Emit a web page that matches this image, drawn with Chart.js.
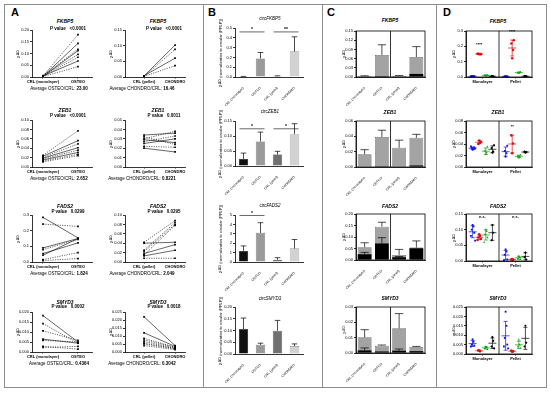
<!DOCTYPE html>
<html>
<head>
<meta charset="utf-8">
<script src="https://cdn.jsdelivr.net/npm/chart.js@4.4.1/dist/chart.umd.min.js"></script>
<style>
  body { margin: 0; background: #fff; }
  #fig { position: relative; width: 550px; height: 394px; overflow: hidden; font-family: Arial, "Liberation Sans", sans-serif; color: #000; }
  #fig canvas { position: absolute; }
  .frame { position: absolute; border: 1px solid #8c8c8c; }
  .vline { position: absolute; width: 1px; background: #8c8c8c; }
  .txt { position: absolute; white-space: nowrap; line-height: 1; transform: translate(-50%, -50%); font-size: 4.5px; }
  .letter { position: absolute; font-weight: bold; font-size: 11px; line-height: 1; }
  .ttl { font-weight: bold; font-style: italic; font-size: 5px; }
  .yt { transform: translate(-50%, -50%) rotate(-90deg); font-size: 4px; }
  .sup { font-size: 3px; position: relative; top: -1.5px; }
</style>
</head>
<body>
<div id="fig"></div>
<script>
// ---- labels
const monoLabels = ['CRL (monolayer)', 'OSTEO'];
const pelletLabels = ['CRL (pellet)', 'CHONDRO'];
const barLabels = ['CRL (monolayer)', 'OSTEO', 'CRL (pellet)', 'CHONDRO'];
const groupLabels = ['Monolayer', 'Pellet'];
const genes = ['FKBP5', 'ZEB1', 'FADS2', 'SMYD3'];

// ---- panel A: paired values (CRL -> treated), 1 = dotted line
const fkbp5MonoCrl = [0.004, 0.003, 0.005, 0.002, 0.006, 0.003, 0.004, 0.002];
const fkbp5Osteo = [0.180, 0.143, 0.118, 0.112, 0.096, 0.084, 0.068, 0.044];
const fkbp5MonoDash = [1, 0, 1, 0, 1, 1, 0, 1];
const fkbp5PelletCrl = [0.003, 0.002, 0.004, 0.002];
const fkbp5Chondro = [0.102, 0.088, 0.060, 0.036];
const fkbp5PelletDash = [0, 1, 0, 1];

const zeb1MonoCrl = [0.025, 0.023, 0.021, 0.019, 0.017, 0.015, 0.013, 0.011];
const zeb1Osteo = [0.077, 0.056, 0.049, 0.041, 0.036, 0.031, 0.027, 0.024];
const zeb1MonoDash = [1, 0, 1, 0, 1, 0, 1, 1];
const zeb1PelletCrl = [0.034, 0.032, 0.030, 0.029, 0.027, 0.025, 0.022, 0.020];
const zeb1Chondro = [0.036, 0.024, 0.038, 0.026, 0.033, 0.030, 0.021, 0.016];
const zeb1PelletDash = [0, 1, 1, 0, 1, 0, 1, 0];

const fads2MonoCrl = [0.285, 0.242, 0.090, 0.079, 0.054, 0.043, 0.015, 0.009];
const fads2Osteo = [0.154, 0.227, 0.150, 0.144, 0.122, 0.150, 0.060, 0.022];
const fads2MonoDash = [0, 1, 0, 1, 0, 0, 1, 1];
const fads2PelletCrl = [0.042, 0.040, 0.025, 0.022, 0.018, 0.015, 0.013, 0.008];
const fads2Chondro = [0.088, 0.042, 0.084, 0.080, 0.037, 0.078, 0.025, 0.008];
const fads2PelletDash = [1, 0, 1, 1, 0, 1, 0, 1];

const smyd3MonoCrl = [0.0182, 0.0142, 0.0106, 0.0064, 0.0058, 0.0028, 0.0023];
const smyd3Osteo = [0.0050, 0.0044, 0.0058, 0.0044, 0.0050, 0.0014, 0.0028];
const smyd3MonoDash = [0, 1, 1, 0, 1, 1, 1];
const smyd3PelletCrl = [0.022, 0.012, 0.0085, 0.0075, 0.0065, 0.0055, 0.005, 0.004];
const smyd3Chondro = [0.004, 0.0035, 0.003, 0.003, 0.0025, 0.0022, 0.002, 0.0015];
const smyd3PelletDash = [0, 0, 1, 1, 1, 1, 1, 1];

const pValuesMono = ['<0.0001', '<0.0001', '0.0299', '0.0002'];
const pValuesPellet = ['<0.0001', '0.0011', '0.0295', '0.0018'];
const ratiosMono = ['23.00', '2.652', '1.824', '0.4364'];
const ratiosPellet = ['16.46', '0.8221', '2.049', '0.3042'];

// ---- panel B: circular RNA bars (mean, upper error)
const circFkbp5 = [0.004, 0.19, 0.008, 0.26];
const circFkbp5Err = [0.006, 0.25, 0.012, 0.41];
const circZeb1 = [0.024, 0.082, 0.038, 0.106];
const circZeb1Err = [0.043, 0.113, 0.049, 0.141];
const circFads2 = [1.18, 3.10, 0.25, 1.43];
const circFads2Err = [1.71, 4.18, 0.46, 2.39];
const circSmyd3 = [0.106, 0.039, 0.099, 0.034];
const circSmyd3Err = [0.153, 0.046, 0.143, 0.043];

// ---- panel C: total (grey) and circular part (black)
const cFkbp5Total = [0.003, 0.072, 0.004, 0.065];
const cFkbp5TotalErr = [0.004, 0.105, 0.005, 0.099];
const cFkbp5Black = [0.001, 0.003, 0.002, 0.010];
const cFkbp5BlackErr = [null, null, null, null];
const cZeb1Total = [0.0165, 0.039, 0.025, 0.038];
const cZeb1TotalErr = [0.0226, 0.048, 0.035, 0.0426];
const cZeb1Black = [0.0003, 0.001, 0.0003, 0.002];
const cZeb1BlackErr = [null, null, null, null];
const cFads2Total = [0.055, 0.145, 0.022, 0.054];
const cFads2TotalErr = [0.075, 0.164, 0.046, 0.083];
const cFads2Black = [0.025, 0.072, 0.012, 0.051];
const cFads2BlackErr = [0.033, 0.097, 0.015, null];
const cSmyd3Total = [0.0102, 0.0048, 0.0161, 0.0039];
const cSmyd3TotalErr = [0.0152, 0.0052, 0.0257, 0.0043];
const cSmyd3Black = [0.0017, 0.001, 0.0015, 0.0012];
const cSmyd3BlackErr = [0.0033, null, 0.0026, null];

// ---- panel D: individual values [blue, red, green, black]
const dFkbp5Mono = [[0.004, 0.005, 0.006, 0.005, 0.004], [0.148, 0.150, 0.152, 0.149, 0.151], [0.008, 0.010, 0.013, 0.011], [0.004, 0.005, 0.006]];
const dFkbp5Pellet = [[0.003, 0.004, 0.005, 0.004], [0.122, 0.176, 0.218, 0.240], [0.025, 0.030, 0.028, 0.033], [0.004, 0.005, 0.006]];
const dZeb1Mono = [[0.030, 0.031, 0.033, 0.034, 0.036, 0.032], [0.046, 0.042, 0.040, 0.044], [0.022, 0.025, 0.028, 0.035], [0.025, 0.027, 0.033, 0.038]];
const dZeb1Pellet = [[0.018, 0.024, 0.028, 0.037], [0.024, 0.041, 0.055], [0.016, 0.018, 0.019, 0.021], [0.025, 0.026, 0.027]];
const dFads2Mono = [[0.115, 0.110, 0.100, 0.090, 0.080, 0.065], [0.085, 0.080, 0.075, 0.070, 0.067], [0.100, 0.095, 0.085, 0.075, 0.060], [0.115, 0.090, 0.066]];
const dFads2Pellet = [[0.037, 0.030, 0.020, 0.005, 0.003], [0.006, 0.004, 0.005], [0.016, 0.012, 0.008, 0.005], [0.027, 0.005, 0.012]];
const dSmyd3Mono = [[0.0078, 0.0065, 0.005, 0.0045, 0.004], [0.0018, 0.0015, 0.002], [0.004, 0.0035, 0.003, 0.0025], [0.009, 0.007, 0.004, 0.003]];
const dSmyd3Pellet = [[0.0225, 0.015, 0.0085, 0.005, 0.004, 0.003], [0.0012, 0.0015, 0.0018], [0.0075, 0.005, 0.004, 0.003], [0.015, 0.006, 0.004]];

Chart.defaults.font.family = 'Arial, "Liberation Sans", sans-serif';
Chart.defaults.font.size = 4;
Chart.defaults.color = '#000';
Chart.defaults.animation = false;
Chart.defaults.responsive = false;
Chart.defaults.plugins.legend.display = false;
Chart.defaults.plugins.tooltip.enabled = false;

const fig = document.getElementById('fig');

function addCanvas(left, top, w, h) {
    const c = document.createElement('canvas');
    c.width = w;
    c.height = h;
    c.style.left = left + 'px';
    c.style.top = top + 'px';
    c.style.width = w + 'px';
    c.style.height = h + 'px';
    fig.appendChild(c);
    return c;
}

function note(html, x, y, cls) {
    const d = document.createElement('div');
    d.className = 'txt ' + (cls || '');
    d.style.left = x + 'px';
    d.style.top = y + 'px';
    d.innerHTML = html;
    fig.appendChild(d);
}

// the plot rectangle (page coordinates) is fixed, margins hold the axes
function makeChart(rect, m, config) {
    const cv = addCanvas(rect.l - m.left, rect.t - m.top, rect.r - rect.l + m.left + m.right, rect.b - rect.t + m.top + m.bottom);
    config.options.layout = { padding: { top: m.top, right: m.right, left: 0, bottom: 0 } };
    config.options.scales.y.afterFit = (s) => { s.width = m.left; };
    config.options.scales.x.afterFit = (s) => { s.height = m.bottom; };
    return new Chart(cv, config);
}

function yAxis(max, step, dec) {
    return {
        min: 0,
        max,
        border: { color: '#000', width: 0.8 },
        grid: { drawOnChartArea: false, color: '#000', tickLength: 2, lineWidth: 0.8 },
        ticks: { stepSize: step, padding: 1, callback: (v) => v.toFixed(dec) },
    };
}

function catAxis() {
    return {
        type: 'category',
        offset: true,
        border: { color: '#000', width: 0.8 },
        grid: { display: false },
        ticks: { minRotation: 45, maxRotation: 45, autoSkip: false, padding: 1, font: { size: 3.4 } },
    };
}

function errorPlugin(sets) {
    return {
        id: 'errorBars',
        afterDatasetsDraw(chart) {
            const { ctx } = chart;
            const ys = chart.scales.y;
            ctx.save();
            ctx.strokeStyle = '#000';
            ctx.lineWidth = 0.7;
            sets.forEach((set) => {
                chart.getDatasetMeta(set.ds).data.forEach((bar, i) => {
                    if (set.hi[i] == null) return;
                    const top = ys.getPixelForValue(set.hi[i]);
                    const cap = bar.width * 0.3;
                    ctx.beginPath();
                    ctx.moveTo(bar.x, bar.y);
                    ctx.lineTo(bar.x, top);
                    ctx.moveTo(bar.x - cap, top);
                    ctx.lineTo(bar.x + cap, top);
                    ctx.stroke();
                });
            });
            ctx.restore();
        },
    };
}

function sigPlugin(marks) {
    return {
        id: 'sig',
        afterDatasetsDraw(chart) {
            const { ctx } = chart;
            const xs = chart.scales.x;
            const ys = chart.scales.y;
            ctx.save();
            ctx.strokeStyle = '#000';
            ctx.fillStyle = '#000';
            ctx.lineWidth = 0.6;
            ctx.font = 'bold 5px Arial, "Liberation Sans", sans-serif';
            ctx.textAlign = 'center';
            marks.forEach((m) => {
                const x1 = xs.getPixelForValue(m.from) - 4;
                const x2 = xs.getPixelForValue(m.to) + 4;
                const y = ys.getPixelForValue(m.y);
                ctx.beginPath();
                ctx.moveTo(x1, y);
                ctx.lineTo(x2, y);
                ctx.stroke();
                ctx.fillText(m.text, (x1 + x2) / 2, y - 0.5);
            });
            ctx.restore();
        },
    };
}

function framePlugin(divideAt) {
    return {
        id: 'frame',
        afterDraw(chart) {
            const { ctx, chartArea: a } = chart;
            const x = chart.scales.x.getPixelForValue(divideAt);
            ctx.save();
            ctx.strokeStyle = '#000';
            ctx.lineWidth = 0.8;
            ctx.strokeRect(a.left, a.top, a.right - a.left, a.bottom - a.top);
            ctx.beginPath();
            ctx.moveTo(x, a.top);
            ctx.lineTo(x, a.bottom);
            ctx.stroke();
            ctx.restore();
        },
    };
}

function meanSdPlugin(marks) {
    return {
        id: 'meanSd',
        afterDatasetsDraw(chart) {
            const { ctx } = chart;
            const xs = chart.scales.x;
            const ys = chart.scales.y;
            ctx.save();
            ctx.lineWidth = 0.7;
            chart.data.datasets.forEach((ds) => {
                const vals = ds.data.map((p) => p.y);
                const mean = vals.reduce((a, b) => a + b, 0) / vals.length;
                const sd = Math.sqrt(vals.reduce((a, b) => a + (b - mean) ** 2, 0) / Math.max(vals.length - 1, 1));
                const x = xs.getPixelForValue(ds.cx);
                const ym = ys.getPixelForValue(mean);
                const y1 = ys.getPixelForValue(mean + sd);
                const y0 = ys.getPixelForValue(Math.max(mean - sd, 0));
                ctx.strokeStyle = ds.borderColor;
                ctx.beginPath();
                ctx.moveTo(x - 4, ym); ctx.lineTo(x + 4, ym);
                ctx.moveTo(x, y0); ctx.lineTo(x, y1);
                ctx.moveTo(x - 2, y0); ctx.lineTo(x + 2, y0);
                ctx.moveTo(x - 2, y1); ctx.lineTo(x + 2, y1);
                ctx.stroke();
            });
            ctx.fillStyle = '#000';
            ctx.font = 'bold 4px Arial, "Liberation Sans", sans-serif';
            ctx.textAlign = 'center';
            marks.forEach((m) => ctx.fillText(m.text, xs.getPixelForValue(m.x), ys.getPixelForValue(m.y)));
            ctx.restore();
        },
    };
}

function pairChart(rect, xr, yr, labels, crl, trt, dashed) {
    const datasets = crl.map((c, i) => ({
        data: [{ x: 0, y: c }, { x: 1, y: trt[i] }],
        borderColor: '#000',
        backgroundColor: '#000',
        borderWidth: 0.6,
        borderDash: dashed[i] ? [1.2, 1.2] : [],
        pointRadius: 1.2,
        pointStyle: 'rect',
        pointBorderWidth: 0,
    }));
    return makeChart(rect, { left: 24, top: 5, right: 6, bottom: 7 }, {
        type: 'line',
        data: { datasets },
        options: {
            scales: {
                x: {
                    type: 'linear',
                    min: xr[0],
                    max: xr[1],
                    border: { color: '#000', width: 0.8 },
                    grid: { drawOnChartArea: false, color: '#000', tickLength: 1.5, lineWidth: 0.8 },
                    afterBuildTicks: (s) => { s.ticks = [{ value: 0 }, { value: 1 }]; },
                    ticks: { callback: (v, i) => labels[i], maxRotation: 0, autoSkip: false, padding: 1, font: { weight: 'bold' } },
                },
                y: yAxis(...yr),
            },
        },
    });
}

function barChart(rect, yr, values, hi, sig) {
    return makeChart(rect, { left: 30, top: 6, right: 5, bottom: 32 }, {
        type: 'bar',
        data: {
            labels: barLabels,
            datasets: [{
                data: values,
                backgroundColor: ['#111111', '#9a9a9a', '#707070', '#d2d2d2'],
                borderColor: '#222',
                borderWidth: 0.4,
                barPercentage: 0.55,
                categoryPercentage: 1,
            }],
        },
        options: { scales: { x: catAxis(), y: yAxis(...yr) } },
        plugins: [errorPlugin([{ ds: 0, hi }]), sigPlugin(sig)],
    });
}

function stackChart(rect, yr, total, totalHi, black, blackHi) {
    const x = catAxis();
    x.stacked = true;
    return makeChart(rect, { left: 30, top: 5, right: 5, bottom: 32 }, {
        type: 'bar',
        data: {
            labels: barLabels,
            datasets: [
                { data: black, backgroundColor: '#000', borderWidth: 0, barPercentage: 0.8, categoryPercentage: 1 },
                { data: total, backgroundColor: '#a3a3a3', borderColor: '#333', borderWidth: 0.5, barPercentage: 0.8, categoryPercentage: 1 },
            ],
        },
        options: { scales: { x, y: yAxis(...yr) } },
        plugins: [errorPlugin([{ ds: 1, hi: totalHi }, { ds: 0, hi: blackHi }]), framePlugin(1.5)],
    });
}

const dotColors = ['#1010e8', '#e01010', '#10a010', '#000000'];
const dotShapes = ['rect', 'circle', 'triangle', 'rectRot'];
const spread = (i) => (i % 2 ? 1 : -1) * Math.ceil(i / 2) * 0.025;

function dotChart(rect, yr, mono, pellet, marks) {
    const datasets = [];
    [mono, pellet].forEach((group, g) => group.forEach((vals, k) => {
        const cx = g + 0.2 + k * 0.2;
        datasets.push({
            cx,
            data: vals.map((v, i) => ({ x: cx + spread(i), y: v })),
            backgroundColor: dotColors[k],
            borderColor: dotColors[k],
            pointStyle: dotShapes[k],
            pointRadius: 1.3,
            borderWidth: 0,
        });
    }));
    return makeChart(rect, { left: 20, top: 5, right: 5, bottom: 8 }, {
        type: 'scatter',
        data: { datasets },
        options: {
            scales: {
                x: {
                    type: 'linear',
                    min: 0,
                    max: 2,
                    border: { color: '#000', width: 0.8 },
                    grid: { drawOnChartArea: false, color: '#000', tickLength: 1.5, lineWidth: 0.8 },
                    afterBuildTicks: (s) => { s.ticks = [{ value: 0.5 }, { value: 1.5 }]; },
                    ticks: { callback: (v, i) => groupLabels[i], maxRotation: 0, autoSkip: false, padding: 1, font: { weight: 'bold' } },
                },
                y: yAxis(...yr),
            },
        },
        plugins: [meanSdPlugin(marks), framePlugin(1)],
    });
}

// ---- layout
const rowA = [[30, 77], [120, 167], [215, 262], [312, 352]];
const rowB = [[28, 77], [121, 166], [215, 262], [307, 354]];
const rowC = [[31, 77], [121, 167], [214, 260], [307, 353]];
const rowD = [[31, 77], [121, 167], [214, 261], [307, 354]];

// frames and panel letters
const frame = document.createElement('div');
frame.className = 'frame';
Object.assign(frame.style, { left: '4px', top: '4px', width: '541px', height: '382px' });
fig.appendChild(frame);
[203, 322, 436].forEach((x) => {
    const v = document.createElement('div');
    v.className = 'vline';
    Object.assign(v.style, { left: x + 'px', top: '4px', height: '383px' });
    fig.appendChild(v);
});
[['A', 11], ['B', 208], ['C', 327], ['D', 443]].forEach(([t, x]) => {
    const d = document.createElement('div');
    d.className = 'letter';
    Object.assign(d.style, { left: x + 'px', top: '7px' });
    d.textContent = t;
    fig.appendChild(d);
});

// panel A
const aMono = [
    [fkbp5MonoCrl, fkbp5Osteo, fkbp5MonoDash, [0.20, 0.05, 2]],
    [zeb1MonoCrl, zeb1Osteo, zeb1MonoDash, [0.10, 0.02, 2]],
    [fads2MonoCrl, fads2Osteo, fads2MonoDash, [0.3, 0.1, 1]],
    [smyd3MonoCrl, smyd3Osteo, smyd3MonoDash, [0.020, 0.005, 3]],
];
const aPellet = [
    [fkbp5PelletCrl, fkbp5Chondro, fkbp5PelletDash, [0.15, 0.05, 2]],
    [zeb1PelletCrl, zeb1Chondro, zeb1PelletDash, [0.05, 0.01, 2]],
    [fads2PelletCrl, fads2Chondro, fads2PelletDash, [0.10, 0.02, 2]],
    [smyd3PelletCrl, smyd3Chondro, smyd3PelletDash, [0.025, 0.005, 3]],
];
const titleYA = [21, 110, 206, 302];
const pYA = [29, 116, 212, 307];
const sup = '2<span class="sup">-ΔCt</span>';

rowA.forEach(([t, b], r) => {
    const [c1, t1, d1, y1] = aMono[r];
    const [c2, t2, d2, y2] = aPellet[r];
    pairChart({ l: 32, r: 92, t, b }, [-0.314, 1.4], y1, monoLabels, c1, t1, d1);
    pairChart({ l: 125, r: 185, t, b }, [-0.613, 1.32], y2, pelletLabels, c2, t2, d2);
    note(genes[r], 65, titleYA[r], 'ttl');
    note(genes[r], 158, titleYA[r], 'ttl');
    note('<b>P value</b>&nbsp;&nbsp;&nbsp;<b>' + pValuesMono[r] + '</b>', 68, pYA[r]);
    note('<b>P value</b>&nbsp;&nbsp;&nbsp;<b>' + pValuesPellet[r] + '</b>', 164, pYA[r]);
    note('Average OSTEO/CRL: <b>' + ratiosMono[r] + '</b>', 59, b + 11.5);
    note('Average CHONDRO/CRL: <b>' + ratiosPellet[r] + '</b>', 142, b + 11.5);
    note(sup, 19, (t + b) / 2, 'yt');
    note(sup, 112, (t + b) / 2, 'yt');
});

// panel B
const bSets = [
    [circFkbp5, circFkbp5Err, [0.5, 0.1, 1], [{ from: 0, to: 1, y: 0.46, text: '*' }, { from: 2, to: 3, y: 0.46, text: '**' }]],
    [circZeb1, circZeb1Err, [0.15, 0.05, 2], [{ from: 0, to: 1, y: 0.124, text: '*' }, { from: 2, to: 3, y: 0.124, text: '*' }]],
    [circFads2, circFads2Err, [5, 1, 0], [{ from: 0, to: 1, y: 4.95, text: '*' }]],
    [circSmyd3, circSmyd3Err, [0.20, 0.05, 2], []],
];
const titleYB = [19, 112, 206, 299];
rowB.forEach(([t, b], r) => {
    const [v, e, y, s] = bSets[r];
    barChart({ l: 235, r: 303, t, b }, y, v, e, s);
    note('circ<i>' + genes[r] + '</i>', 270, titleYB[r], '');
    note(sup + ' (normalization to circular (PPLP))', 221, (t + b) / 2, 'yt');
});

// panel C
const cSets = [
    [cFkbp5Total, cFkbp5TotalErr, cFkbp5Black, cFkbp5BlackErr, [0.15, 0.03, 2]],
    [cZeb1Total, cZeb1TotalErr, cZeb1Black, cZeb1BlackErr, [0.06, 0.02, 2]],
    [cFads2Total, cFads2TotalErr, cFads2Black, cFads2BlackErr, [0.20, 0.05, 2]],
    [cSmyd3Total, cSmyd3TotalErr, cSmyd3Black, cSmyd3BlackErr, [0.03, 0.01, 2]],
];
const titleYC = [20, 112, 206, 298];
rowC.forEach(([t, b], r) => {
    const [tot, totE, blk, blkE, y] = cSets[r];
    stackChart({ l: 356, r: 425, t, b }, y, tot, totE, blk, blkE);
    note(genes[r], 390, titleYC[r], 'ttl');
    note(sup, 345, (t + b) / 2, 'yt');
});

// panel D
const dSets = [
    [dFkbp5Mono, dFkbp5Pellet, [0.3, 0.1, 1], [{ x: 0.4, y: 0.2, text: '****' }, { x: 1.4, y: 0.287, text: '****' }]],
    [dZeb1Mono, dZeb1Pellet, [0.08, 0.02, 2], [{ x: 1.4, y: 0.067, text: '**' }]],
    [dFads2Mono, dFads2Pellet, [0.15, 0.05, 2], [{ x: 0.5, y: 0.138, text: 'n.s.' }, { x: 1.5, y: 0.138, text: 'n.s.' }]],
    [dSmyd3Mono, dSmyd3Pellet, [0.025, 0.005, 3], []],
];
const titleYD = [21, 112, 206, 298];
rowD.forEach(([t, b], r) => {
    const [m, p, y, s] = dSets[r];
    dotChart({ l: 466, r: 532, t, b }, y, m, p, s);
    note(genes[r], 498, titleYD[r], 'ttl');
    note(sup, 455, (t + b) / 2, 'yt');
});
</script>
</body>
</html>
